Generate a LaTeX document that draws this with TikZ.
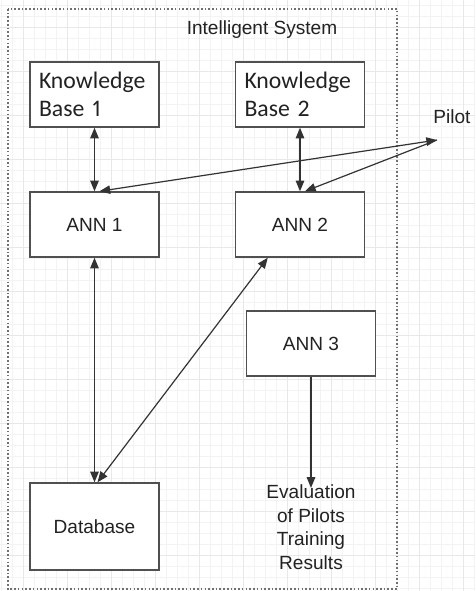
\documentclass[tikz,border=0pt]{standalone}
\usepackage{fontspec}
\setmainfont{Liberation Sans}
\newfontfamily\kbfont[Numbers=Proportional]{Carlito}
\usetikzlibrary{arrows.meta,calc}
\definecolor{boxgray}{HTML}{505050}
\definecolor{linegray}{HTML}{333333}
\definecolor{textgray}{HTML}{222222}
\definecolor{gridminor}{HTML}{F3F3F3}
\definecolor{gridmajor}{HTML}{E8E8E8}
\definecolor{framegray}{HTML}{707070}
\tikzset{blk/.tip={Triangle[length=8pt,width=6.4pt]}}
\begin{document}
\begin{tikzpicture}[x=0.75pt,y=-0.75pt,
  box/.style={draw=boxgray, line width=1.1pt, fill=white, inner sep=0pt,
    minimum width=96.75pt, minimum height=48.75pt, text=textgray,
    font=\fontsize{14.3}{17.6}\selectfont},
  kbbox/.style={box, align=left, text width=83.25pt,
    font=\kbfont\fontsize{17.8}{21}\selectfont},
  plain/.style={text=textgray, inner sep=1pt, font=\fontsize{14.3}{17.6}\selectfont},
  arr/.style={draw=linegray, line width=0.9pt, arrows={blk-blk}},
  onearr/.style={draw=linegray, line width=0.9pt, arrows={-blk}}]

\useasboundingbox (0,0) rectangle (475,591);
\fill[white] (0,0) rectangle (475,591);

% background grid: minor every 11px, major every 44px
\foreach \i in {0,...,43} {
  \draw[gridminor, line width=0.5pt] (1+11*\i,0) -- (1+11*\i,591);
}
\foreach \j in {0,...,53} {
  \draw[gridminor, line width=0.5pt] (0,5+11*\j) -- (475,5+11*\j);
}
\foreach \i in {0,...,10} {
  \draw[gridmajor, line width=0.6pt] (23+44*\i,0) -- (23+44*\i,591);
}
\foreach \j in {0,...,13} {
  \draw[gridmajor, line width=0.6pt] (0,27+44*\j) -- (475,27+44*\j);
}

% system boundary
\draw[framegray, line width=1.1pt, dash pattern=on 1.2pt off 1.6pt]
  (8,9) rectangle (397,589);
\node[plain] (title) at (262,30) {Intelligent System};

% components
\node[kbbox] (kb1) at (94.5,94.5) {Knowledge\\Base 1};
\node[kbbox] (kb2) at (300,94.5) {Knowledge\\Base 2};
\node[box] (ann1) at (94.5,224.5) {ANN 1};
\node[box] (ann2) at (300,224.5) {ANN 2};
\node[box] (ann3) at (311,343.5) {ANN 3};
\node[box, minimum height=65.25pt] (db) at (94.5,526.5) {Database};
\node[plain, align=center, inner xsep=3pt, inner ysep=0pt] (eval) at (311,527)
  {Evaluation\\of Pilots\\Training\\Results};
\node[plain] (pilot) at (452,117) {Pilot};
\coordinate (pilotpt) at (437,140);

% connections
\draw[arr] (kb1.south) -- (ann1.north);
\draw[arr] (kb2.south) -- (ann2.north);
\draw[arr] ($(ann1.north)+(5,0)$) -- (pilotpt);
\draw[onearr] (pilotpt) -- ($(ann2.north)+(5,0)$);
\draw[arr] (ann1.south) -- (db.north);
\draw[arr] ($(ann2.south west)+(33,0)$) -- ($(db.north)+(3,0)$);
\draw[onearr, shorten >=-2.5pt] (ann3.south) -- (eval.north);

\end{tikzpicture}
\end{document}
